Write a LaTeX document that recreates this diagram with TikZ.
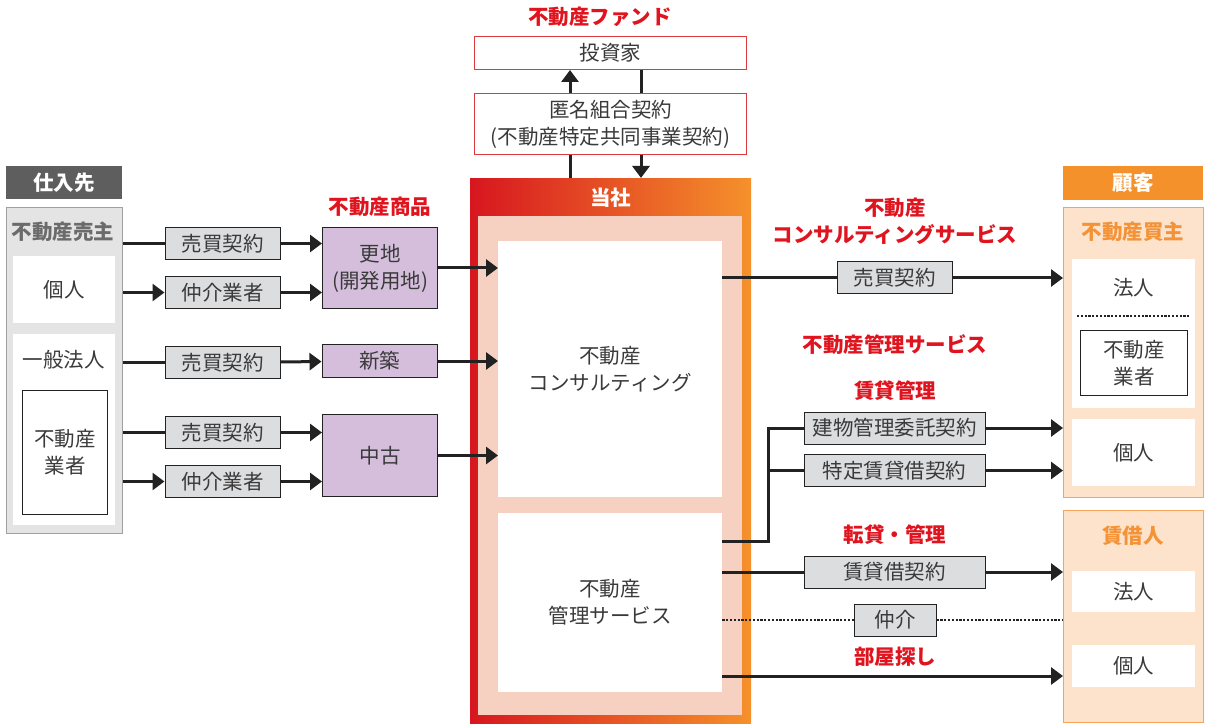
\documentclass[tikz,border=0pt]{standalone}
\usepackage{fontspec}
\setmainfont{Noto Sans CJK JP}
\usetikzlibrary{positioning, arrows.meta}

\definecolor{txt}{HTML}{3A3A3A}
\definecolor{tsred}{HTML}{D7161F}
\definecolor{lblred}{HTML}{E0141E}
\definecolor{tsorange}{HTML}{F5912B}
\definecolor{lblorange}{HTML}{F39237}
\definecolor{pinkin}{HTML}{F6D0C0}
\definecolor{lorange}{HTML}{FDE3CC}
\definecolor{oline}{HTML}{F5A45A}
\definecolor{gpanel}{HTML}{E4E4E4}
\definecolor{gline}{HTML}{A0A0A0}
\definecolor{hdrgray}{HTML}{5E5E5F}
\definecolor{ctrfill}{HTML}{DCDDDE}
\definecolor{prodfill}{HTML}{D4BEDC}
\definecolor{darkln}{HTML}{222222}

\begin{document}
\begin{tikzpicture}[x=1pt,y=-1pt,
  every node/.style={font=\fontsize{20.5}{27}\selectfont, text=txt, inner sep=0pt, align=center},
  nw/.style={anchor=north west},
  ctr/.style={draw=darkln, line width=1pt, fill=ctrfill, minimum height=32pt},
  prod/.style={draw=darkln, line width=1pt, fill=prodfill, minimum width=115pt},
  wbox/.style={fill=white, minimum width=123pt},
  hdr/.style={text=white, font=\fontsize{20.5}{27}\selectfont\bfseries, minimum width=140pt, minimum height=34pt},
  redlbl/.style={text=lblred, font=\fontsize{20.5}{27}\selectfont\bfseries},
  olbl/.style={text=lblorange, font=\fontsize{20.5}{27}\selectfont\bfseries},
  ln/.style={draw=darkln, line width=3pt},
  arr/.style={ln, -{Triangle[length=12pt,width=17pt]}},
  dots/.style={draw=darkln, line width=2.4pt, dash pattern=on 2.2pt off 1.6pt}
]
\useasboundingbox (0,0) rectangle (1210,727);

\node[redlbl] (fund) at (600,17) {不動産ファンド};
\node[nw, draw=tsred!85, line width=1pt, fill=white, minimum width=272pt, minimum height=33pt] (inv) at (474,36) {投資家};
\node[nw, draw=tsred!85, line width=1pt, fill=white, minimum width=272pt, minimum height=61pt] (anon) at (474,93) {匿名組合契約\\(不動産特定共同事業契約)};

\node[nw, left color=tsred, right color=tsorange, minimum width=281pt, minimum height=545pt] (co) at (470,178) {};
\node[nw, fill=pinkin, minimum width=264pt, minimum height=499pt] (coin) at (478,216) {};
\node[hdr] (tosha) at (610.5,198) {当社};
\node[nw, wbox, minimum width=224pt, minimum height=256pt] (cons) at (498,241) {不動産\\コンサルティング};
\node[nw, wbox, minimum width=224pt, minimum height=179pt] (mgmt) at (498,513) {不動産\\管理サービス};

\coordinate (upx) at (570,0);
\coordinate (dnx) at (641,0);
\draw[ln] (upx |- co.north) -- (upx |- anon.south);
\draw[arr] (upx |- anon.north) -- (upx |- inv.south);
\draw[ln] (dnx |- inv.south) -- (dnx |- anon.north);
\draw[arr] (dnx |- anon.south) -- (dnx |- co.north);

\node[nw, hdr, fill=hdrgray, minimum width=116pt, minimum height=33pt] (shiire) at (6,166) {仕入先};
\node[nw, draw=gline, line width=1.2pt, fill=gpanel, minimum width=116pt, minimum height=326pt] (sup) at (6,207) {};
\node[text=black!58, font=\fontsize{20.5}{27}\selectfont\bfseries] (urinushi) at (63,232) {不動産売主};
\node[nw, wbox, minimum width=102pt, minimum height=67pt] (kojin1) at (13,256) {個人};
\node[nw, wbox, minimum width=102pt, minimum height=191pt] (corp1) at (13,334) {};
\node (ippan) at (64,360) {一般法人};
\node[nw, draw=darkln, line width=1pt, fill=white, minimum width=85pt, minimum height=124pt] (gyo1) at (22,390) {不動産\\業者};

\node[ctr, minimum width=115pt] (c1) at (222.5,243.5) {売買契約};
\node[ctr, minimum width=115pt] (c2) [below=16pt of c1] {仲介業者};
\node[ctr, minimum width=115pt] (c3) [below=37pt of c2] {売買契約};
\node[ctr, minimum width=115pt] (c4) [below=37pt of c3] {売買契約};
\node[ctr, minimum width=115pt] (c5) [below=16pt of c4] {仲介業者};

\node[redlbl] (shohin) at (380,207) {不動産商品};
\node[nw, prod, minimum height=81pt] (p1) at (322,227) {更地\\(開発用地)};
\node[prod, minimum height=33pt] (p2) at (379.5,361) {新築};
\node[nw, prod, minimum height=82pt] (p3) at (322,414) {中古};

\draw[ln] (c1 -| sup.east) -- (c1);
\draw[arr] (c2 -| sup.east) -- (c2);
\draw[ln] (c3 -| sup.east) -- (c3);
\draw[ln] (c4 -| sup.east) -- (c4);
\draw[arr] (c5 -| sup.east) -- (c5);
\draw[arr] (c1) -- (c1 -| p1.west);
\draw[arr] (c2) -- (c2 -| p1.west);
\draw[arr] (c3) -- (p2);
\draw[arr] (c4) -- (c4 -| p3.west);
\draw[arr] (c5) -- (c5 -| p3.west);
\draw[arr] (p1) -- (p1 -| cons.west);
\draw[arr] (p2) -- (p2 -| cons.west);
\draw[arr] (p3) -- (p3 -| cons.west);

\node[nw, hdr, fill=tsorange] (kokyaku) at (1063,166) {顧客};
\node[nw, draw=oline, line width=1.2pt, fill=lorange, minimum width=140pt, minimum height=290pt] (buyer) at (1063,207) {};
\node[olbl] (kaunushi) at (1133,232) {不動産買主};
\node[nw, wbox, minimum height=149pt] (bw1) at (1072,259) {};
\node (hojin1) at (1133.5,288) {法人};
\coordinate (dotl) at (1077,316);
\coordinate (dotr) at (1189,316);
\draw[dots] (dotl) -- (dotr);
\node[nw, draw=darkln, line width=1pt, fill=white, minimum width=107pt, minimum height=65pt] (gyo2) at (1080,330) {不動産\\業者};
\node[nw, wbox, minimum height=67pt] (kojin2) at (1072,419) {個人};
\node[nw, draw=oline, line width=1.2pt, fill=lorange, minimum width=140pt, minimum height=212pt] (renter) at (1063,510) {};
\node[olbl] (chinshaku) at (1133,536) {賃借人};
\node[nw, wbox, minimum height=41pt] (hojin3) at (1072,571) {法人};
\node[nw, wbox, minimum height=42pt] (kojin3) at (1072,645) {個人};

\node[redlbl] (consv) at (895,221) {不動産\\コンサルティングサービス};
\node[redlbl] (kanri) at (895,345) {不動産管理サービス};
\node[redlbl] (chintai) at (895,391) {賃貸管理};
\node[redlbl] (tentai) at (895,535) {転貸・管理};
\node[redlbl] (heya) at (895,657) {部屋探し};

\node[ctr, minimum width=115pt] (r1) at (894.5,278) {売買契約};
\node[ctr, minimum width=181pt] (r2) at (894.5,428) {建物管理委託契約};
\node[ctr, minimum width=181pt] (r3) at (894.5,470.5) {特定賃貸借契約};
\node[ctr, minimum width=181pt] (r4) at (894.5,572) {賃貸借契約};
\node[ctr, minimum width=82pt] (r5) at (895,620) {仲介};

\coordinate (mk) at (768,541);
\coordinate (hy) at (722,676);
\draw[ln] (r1 -| cons.east) -- (r1);
\draw[arr] (r1) -- (r1 -| buyer.west);
\draw[ln] (mgmt.east |- mk) -- (mk) |- (r2);
\draw[ln] (mk |- r3) -- (r3);
\draw[arr] (r2) -- (r2 -| buyer.west);
\draw[arr] (r3) -- (r3 -| buyer.west);
\draw[ln] (r4 -| mgmt.east) -- (r4);
\draw[arr] (r4) -- (r4 -| renter.west);
\draw[dots] (r5 -| mgmt.east) -- (r5);
\draw[dots] (r5) -- (r5 -| renter.west);
\draw[arr] (hy) -- (hy -| renter.west);
\end{tikzpicture}
\end{document}
